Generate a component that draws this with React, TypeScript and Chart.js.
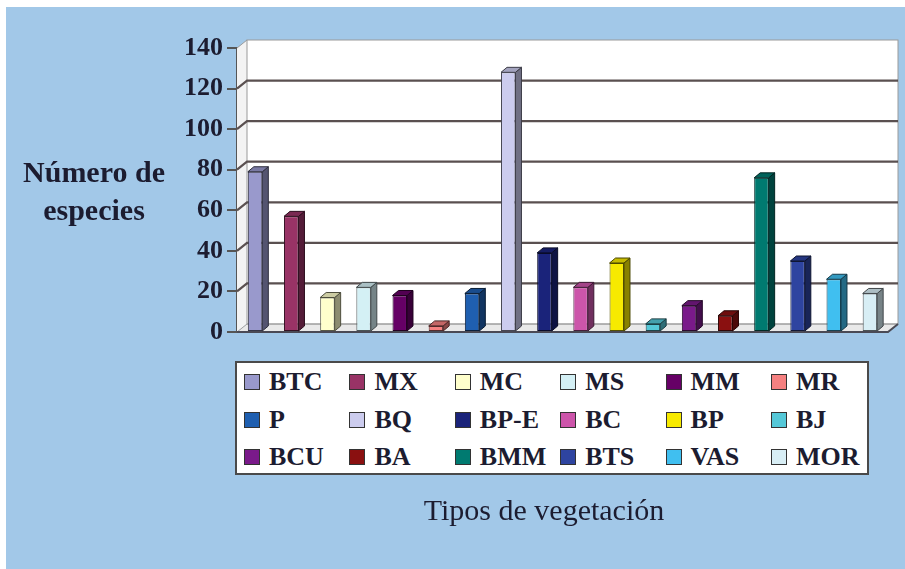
import React, { useEffect, useRef } from 'react';
import { Chart, registerables } from 'chart.js';

Chart.register(...registerables);

const categories = ['BTC', 'MX', 'MC', 'MS', 'MM', 'MR', 'P', 'BQ', 'BP-E', 'BC', 'BP', 'BJ', 'BCU', 'BA', 'BMM', 'BTS', 'VAS', 'MOR'];
const values = [79, 57, 17, 22, 18, 3, 19, 128, 39, 22, 34, 4, 13, 8, 76, 35, 26, 19];
const colors = ['#9999cc', '#993366', '#ffffcc', '#d4f0f5', '#660066', '#f58080', '#1f5fb0', '#ccccee', '#1a237a', '#cc55aa', '#f7ea00', '#55c8d8', '#7a1a8a', '#8a1010', '#007a70', '#2e44a0', '#40bff0', '#d8eef5'];
const yTicks = [0, 20, 40, 60, 80, 100, 120, 140];
const yTitleLines = ['Número de', 'especies'];
const xTitle = 'Tipos de vegetación';

const FONT = '"Liberation Serif", "Times New Roman", serif';

function shade(hex: string, f: number): string {
  const n = parseInt(hex.slice(1), 16);
  let r = (n >> 16) & 255, g = (n >> 8) & 255, b = n & 255;
  if (f < 1) {
    r = Math.round(r * f); g = Math.round(g * f); b = Math.round(b * f);
  } else {
    const t = f - 1;
    r = Math.round(r + (255 - r) * t); g = Math.round(g + (255 - g) * t); b = Math.round(b + (255 - b) * t);
  }
  return `rgb(${r},${g},${b})`;
}

const DX = 10, DY = 8;
const BD = 6, BE = 5;

const threeD = {
  id: 'threeD',
  beforeDatasetsDraw(chart: any) {
    const { ctx, chartArea } = chart;
    const { left, right, top, bottom } = chartArea;
    const ys = chart.scales.y;
    ctx.save();
    ctx.fillStyle = '#ffffff';
    ctx.fillRect(left + DX, top - DY, right - left, bottom - top);
    ctx.beginPath();
    ctx.moveTo(left, top);
    ctx.lineTo(left + DX, top - DY);
    ctx.lineTo(left + DX, bottom - DY);
    ctx.lineTo(left, bottom);
    ctx.closePath();
    ctx.fillStyle = '#f3f3f3';
    ctx.fill();
    ctx.beginPath();
    ctx.moveTo(left, bottom);
    ctx.lineTo(left + DX, bottom - DY);
    ctx.lineTo(right + DX, bottom - DY);
    ctx.lineTo(right, bottom);
    ctx.closePath();
    ctx.fillStyle = '#e9e9e9';
    ctx.fill();
    ctx.strokeStyle = '#a0a0a0';
    ctx.lineWidth = 1;
    ctx.stroke();
    ctx.strokeStyle = '#9a9a9a';
    ctx.lineWidth = 1;
    ctx.strokeRect(left + DX, top - DY, right - left, bottom - top);
    ctx.strokeStyle = '#5a5050';
    ctx.lineWidth = 2.2;
    yTicks.forEach((v) => {
      if (v === 0 || v === 140) return;
      const y = ys.getPixelForValue(v);
      ctx.beginPath();
      ctx.moveTo(left, y);
      ctx.lineTo(left + DX, y - DY);
      ctx.lineTo(right + DX, y - DY);
      ctx.stroke();
    });
    ctx.strokeStyle = '#9a9a9a';
    ctx.lineWidth = 1;
    ctx.beginPath();
    ctx.moveTo(left, top);
    ctx.lineTo(left + DX, top - DY);
    ctx.stroke();
    ctx.strokeStyle = '#4a4a55';
    ctx.lineWidth = 2;
    ctx.beginPath();
    ctx.moveTo(left, bottom);
    ctx.lineTo(right, bottom);
    ctx.lineTo(right + DX, bottom - DY);
    ctx.stroke();
    ctx.restore();
  },
  afterDatasetsDraw(chart: any) {
    const { ctx } = chart;
    ctx.save();
    chart.data.datasets.forEach((ds: any, i: number) => {
      const meta = chart.getDatasetMeta(i);
      const bar = meta.data[0];
      if (!bar) return;
      const { x, y, base, width } = bar.getProps(['x', 'y', 'base', 'width'], true);
      const l = x - width / 2, r = x + width / 2;
      const c = colors[i];
      ctx.lineWidth = 1;
      ctx.strokeStyle = shade(c, 0.3);
      ctx.beginPath();
      ctx.moveTo(r, y);
      ctx.lineTo(r + BD, y - BE);
      ctx.lineTo(r + BD, base - BE);
      ctx.lineTo(r, base);
      ctx.closePath();
      ctx.fillStyle = shade(c, 0.55);
      ctx.fill();
      ctx.stroke();
      ctx.beginPath();
      ctx.moveTo(l, y);
      ctx.lineTo(l + BD, y - BE);
      ctx.lineTo(r + BD, y - BE);
      ctx.lineTo(r, y);
      ctx.closePath();
      ctx.fillStyle = shade(c, 0.8);
      ctx.fill();
      ctx.stroke();
    });
    ctx.restore();
  },
};

export default function App() {
  const canvasRef = useRef<HTMLCanvasElement | null>(null);

  useEffect(() => {
    if (!canvasRef.current) return;
    const chart = new Chart(canvasRef.current, {
      type: 'bar',
      data: {
        labels: [''],
        datasets: categories.map((name, i) => ({
          label: name,
          data: [values[i]],
          backgroundColor: colors[i],
          borderColor: shade(colors[i], 0.35),
          borderWidth: 1,
          borderSkipped: false,
        })),
      },
      options: {
        animation: false,
        responsive: true,
        maintainAspectRatio: false,
        layout: { padding: { top: 48, right: 17, bottom: 237, left: 0 } },
        datasets: { bar: { categoryPercentage: 1, barPercentage: 0.4 } },
        plugins: { legend: { display: false }, tooltip: { enabled: false } },
        scales: {
          x: { display: false },
          y: {
            min: 0,
            max: 140,
            ticks: {
              stepSize: 20,
              padding: 4,
              color: '#1c1c30',
              font: { family: FONT, size: 26, weight: 'bold' },
            },
            grid: { drawOnChartArea: false, drawTicks: true, tickLength: 10, color: '#555555', lineWidth: 2 },
            border: { display: true, color: '#555555', width: 2 },
            afterFit(scale: any) {
              scale.width = 237;
              scale.paddingTop = 0;
              scale.paddingBottom = 0;
            },
          },
        },
      },
      plugins: [threeD],
    } as any);
    return () => chart.destroy();
  }, []);

  return (
    <div style={{ position: 'absolute', left: 0, top: 0, width: 905, height: 569, background: '#ffffff', overflow: 'hidden' }}>
      <div style={{ position: 'absolute', left: 6, top: 7, width: 899, height: 562, background: '#a2c8e8' }} />
      <div style={{ position: 'absolute', left: 0, top: 0, width: 905, height: 569 }}>
        <canvas ref={canvasRef} />
      </div>
      <div
        style={{
          position: 'absolute', left: 0, top: 153, width: 188, textAlign: 'center',
          fontFamily: FONT, fontWeight: 'bold', fontSize: 30, lineHeight: '38px', color: '#1c1c30',
        }}
      >
        {yTitleLines.map((t) => (<div key={t}>{t}</div>))}
      </div>
      <div
        style={{
          position: 'absolute', left: 235, top: 361, width: 634, height: 114, boxSizing: 'border-box',
          border: '2px solid #4a4a4a', background: '#ffffff',
        }}
      >
        {categories.map((name, i) => {
          const col = i % 6;
          const row = Math.floor(i / 6);
          return (
            <div
              key={name}
              style={{
                position: 'absolute', left: 7 + col * 105.4, top: 19 + row * 37.5 - 15, height: 30,
                display: 'flex', alignItems: 'center',
              }}
            >
              <div style={{ width: 16, height: 16, boxSizing: 'border-box', border: '1px solid #333', background: colors[i], marginRight: 9 }} />
              <span style={{ fontFamily: FONT, fontWeight: 'bold', fontSize: 26, lineHeight: '30px', color: '#1c1c30', whiteSpace: 'nowrap' }}>{name}</span>
            </div>
          );
        })}
      </div>
      <div
        style={{
          position: 'absolute', left: 344, top: 495, width: 400, textAlign: 'center',
          fontFamily: FONT, fontSize: 30, lineHeight: '30px', color: '#1c1c30',
        }}
      >
        {xTitle}
      </div>
    </div>
  );
}
